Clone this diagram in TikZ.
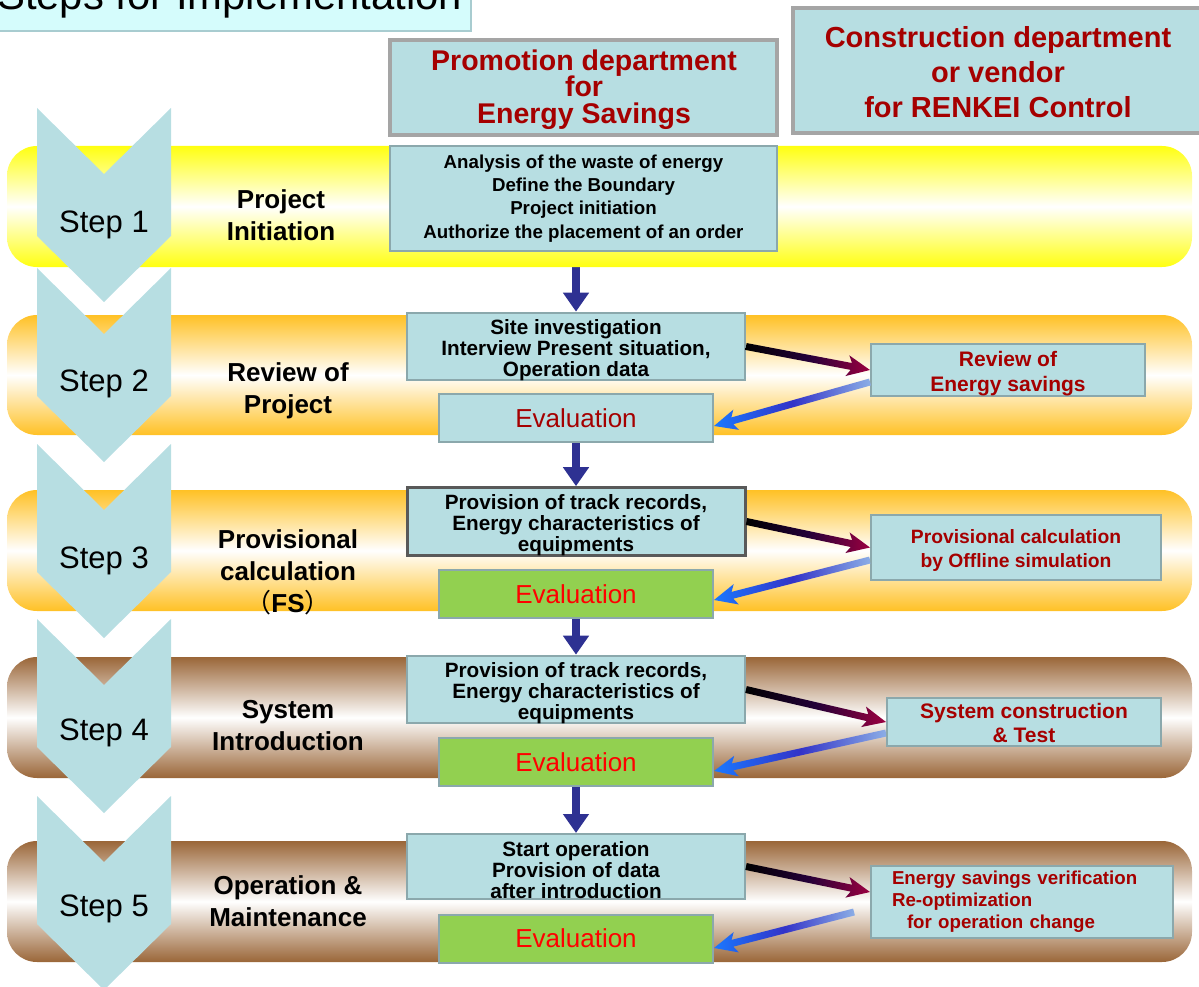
\documentclass[tikz,border=0pt]{standalone}
\usepackage{fontspec}
\setmainfont{Liberation Sans}
\newfontfamily\cjk{Noto Sans CJK SC}
\usetikzlibrary{arrows.meta,calc}
\definecolor{boxfill}{HTML}{B7DEE2}
\definecolor{boxline}{HTML}{8BA8AC}
\definecolor{hdrline}{HTML}{A5A5A5}
\definecolor{chev}{HTML}{B7DEE2}
\definecolor{dred}{HTML}{A50000}
\definecolor{navy}{HTML}{2E3192}
\definecolor{evgreen}{HTML}{92D050}
\definecolor{bandY}{HTML}{FFFF10}
\definecolor{bandO}{HTML}{FFC125}
\definecolor{bandB}{HTML}{9A6638}
\definecolor{titlefill}{HTML}{D5FCFC}
\definecolor{titleline}{HTML}{A8CCD0}
\definecolor{arrC}{HTML}{9B0040}
\definecolor{arrM}{HTML}{240038}
\definecolor{arrL}{HTML}{8CAEE6}
\definecolor{arrP}{HTML}{3333C8}
\definecolor{arrB}{HTML}{1A78FF}
\pgfdeclarelayer{arr}\pgfdeclarelayer{band}\pgfsetlayers{arr,band,main}
% shading runs left-to-right on the canvas: #3 = colour at the left end, #5 = at the right end
\newcommand\gradarrow[5]{%
  \path let \p1=#1, \p2=#2 in
    \pgfextra{%
      \pgfmathsetmacro\gaang{atan2(\y2-\y1,\x2-\x1)}%
      \pgfmathsetmacro\galen{veclen(\x2-\x1,\y2-\y1)}%
      \xdef\gaA{\gaang}\xdef\gaL{\galen}%
      \xdef\gaX{\x1}\xdef\gaY{\y1}%
    };
  \shade[shift={(\gaX,\gaY)}, rotate=\gaA, left color=#3, right color=#5, middle color=#4]
    (0pt,-3.5pt) -- (\gaL pt-19pt,-3.5pt) -- (\gaL pt-23pt,-10.5pt) -- (\gaL pt,0pt)
    -- (\gaL pt-23pt,10.5pt) -- (\gaL pt-19pt,3.5pt) -- (0pt,3.5pt) -- cycle;
}
\newcommand\topst[1]{\rule{0pt}{#1}}
\newcommand\tightls{\lineskiplimit=-40pt\relax}
\tikzset{
  hdrbox/.style={draw=hdrline, line width=4pt, fill=boxfill, inner sep=0pt},
  hdrtext/.style={text=dred, align=center, inner sep=0pt},
  pbox/.style={draw=boxline, line width=2pt, fill=boxfill, inner sep=0pt, align=center},
  stepbox/.style={pbox, minimum width=338pt, minimum height=65pt,
    font=\bfseries\fontsize{20.7}{20.7}\selectfont},
  evalbox/.style={pbox, minimum width=274pt, minimum height=48pt,
    font=\fontsize{26}{30}\selectfont},
  evalblue/.style={evalbox, text=dred},
  evalgreen/.style={evalbox, fill=evgreen, text=red},
  rbox/.style={pbox, text=dred},
  stepnum/.style={font=\fontsize{31}{36}\selectfont, inner sep=0pt},
  steplabel/.style={font=\bfseries\fontsize{26}{32}\selectfont, align=center, inner sep=0pt},
  downarrow/.style={navy, line width=8pt, -{Triangle[width=25pt,length=19pt]}},
}
\begin{document}
\begin{tikzpicture}[x=1pt,y=-1pt]
\useasboundingbox (0,0) rectangle (1199,987);
% title
\fill[titlefill] (-6,-20) rectangle (471,31);
\draw[titleline, line width=1.5pt] (-6,31) -- (471,31) -- (471,-20);
\node[anchor=base west, inner sep=0pt, font=\fontsize{41.8}{48}\selectfont] (title) at (-3,10) {Steps for Implementation};
% headers
\node[hdrbox, minimum width=387pt, minimum height=95pt] (hp) at (583.5,87.5) {};
\node[hdrtext, font={\bfseries\fontsize{28.5}{26.5}\selectfont\tightls}] (hpt) at (584,89.5) {Promotion department\\for\\Energy Savings};
\node[hdrbox, minimum width=420pt, minimum height=125pt] (hc) at (1003,70.5) {};
\node[hdrtext, font=\bfseries\fontsize{29}{35}\selectfont] (hct) at (998,72.5) {Construction department\\or vendor\\for RENKEI Control};
% bands
\begin{pgfonlayer}{band}
\path[rounded corners=30pt, top color=bandY, bottom color=bandY, middle color=white] (7,146) rectangle (1192,267);
\path[rounded corners=30pt, top color=bandO, bottom color=bandO, middle color=white] (7,315) rectangle (1192,435);
\path[rounded corners=30pt, top color=bandO, bottom color=bandO, middle color=white] (7,490) rectangle (1192,611);
\path[rounded corners=30pt, top color=bandB, bottom color=bandB, middle color=white] (7,657) rectangle (1192,778);
\path[rounded corners=30pt, top color=bandB, bottom color=bandB, middle color=white] (7,841) rectangle (1192,962);
\end{pgfonlayer}
% chevrons
\foreach \t in {108,268,444,619,796}{
  \fill[chev] (37,\t) -- (104,\t+66) -- (171,\t) -- (171,\t+128) -- (104,\t+194) -- (37,\t+128) -- cycle;
}
\node[stepnum] (n1) at (104,224.5) {Step 1};
\node[stepnum] (n2) at (104,384) {Step 2};
\node[stepnum] (n3) at (104,561) {Step 3};
\node[stepnum] (n4) at (104,733) {Step 4};
\node[stepnum] (n5) at (104,909) {Step 5};
\node[steplabel] (l1) at (281,215) {Project\\Initiation};
\node[steplabel] (l2) at (288,390.5) {Review of\\Project};
\node[steplabel] (l3) at (288,572.5) {Provisional\\calculation\\{\mdseries\cjk （}FS{\mdseries\cjk ）}};
\node[steplabel] (l4) at (288,725.5) {System\\Introduction};
\node[steplabel] (l5) at (288,901) {Operation \&\\Maintenance};
% promotion column
\node[pbox, minimum width=387pt, minimum height=105pt, font=\bfseries\fontsize{18.7}{23.3}\selectfont] (S1) at (583.5,198.5)
  {Analysis of the waste of energy\\Define the Boundary\\Project initiation\\Authorize the placement of an order};
\node[stepbox] (S2) at (576,346.5) {\topst{22pt}Site investigation\\Interview Present situation,\\Operation data};
\node[evalblue] (E2) at (576,418) {Evaluation};
\node[stepbox, draw=black!65, line width=3pt] (S3) at (576,521.5) {\topst{22pt}Provision of track records,\\Energy characteristics of\\equipments};
\node[evalgreen] (E3) at (576,594) {Evaluation};
\node[stepbox] (S4) at (576,689.5) {\topst{22pt}Provision of track records,\\Energy characteristics of\\equipments};
\node[evalgreen] (E4) at (576,762) {Evaluation};
\node[stepbox] (S5) at (576,866.5) {\topst{22pt}Start operation\\Provision of data\\after introduction};
\node[evalgreen] (E5) at (576,938.5) {Evaluation};
% construction column
\node[rbox, minimum width=274pt, minimum height=48pt, font=\bfseries\fontsize{21}{25}\selectfont] (R2) at (1008,370) {\topst{22pt}Review of\\Energy savings};
\node[rbox, minimum width=290pt, minimum height=65pt, font=\bfseries\fontsize{19.3}{24}\selectfont] (R3) at (1016,547.5) {\topst{20pt}Provisional calculation\\by Offline simulation};
\node[rbox, minimum width=274pt, minimum height=48pt, font=\bfseries\fontsize{21}{24}\selectfont] (R4) at (1024,722) {\topst{17pt}System construction\\\& Test};
\node[rbox, align=left, text width=260pt, inner xsep=21pt, minimum height=72pt, font=\bfseries\fontsize{18.7}{22}\selectfont] (R5) at (1022,902) {Energy savings verification\\Re-optimization\\\hspace*{15pt}for operation change};
% down arrows (behind bands)
\begin{pgfonlayer}{arr}
\draw[downarrow] (S2.north |- S1.south) -- (S2.north);
\draw[downarrow] (E2.south) -- (S3.north);
\draw[downarrow] (E3.south) -- (S4.north);
\draw[downarrow] (E4.south) -- (S5.north);
\end{pgfonlayer}
% gradient arrows
\gradarrow{(S2.east)}{(R2.west)}{black}{arrM}{arrC}
\gradarrow{($(R2.west)+(0,12)$)}{($(E2.east)+(0,8)$)}{arrB}{arrP}{arrL}
\gradarrow{(S3.east)}{(R3.west)}{black}{arrM}{arrC}
\gradarrow{($(R3.west)+(0,12.5)$)}{($(E3.east)+(0,6)$)}{arrB}{arrP}{arrL}
\gradarrow{(S4.east)}{(R4.west)}{black}{arrM}{arrC}
\gradarrow{($(R4.west)+(0,11)$)}{($(E4.east)+(0,9)$)}{arrB}{arrP}{arrL}
\gradarrow{(S5.east)}{($(R5.west)+(0,-10)$)}{black}{arrM}{arrC}
\gradarrow{($(R5.west)+(-16,10)$)}{($(E5.east)+(0,9.5)$)}{arrB}{arrP}{arrL}
\end{tikzpicture}
\end{document}
